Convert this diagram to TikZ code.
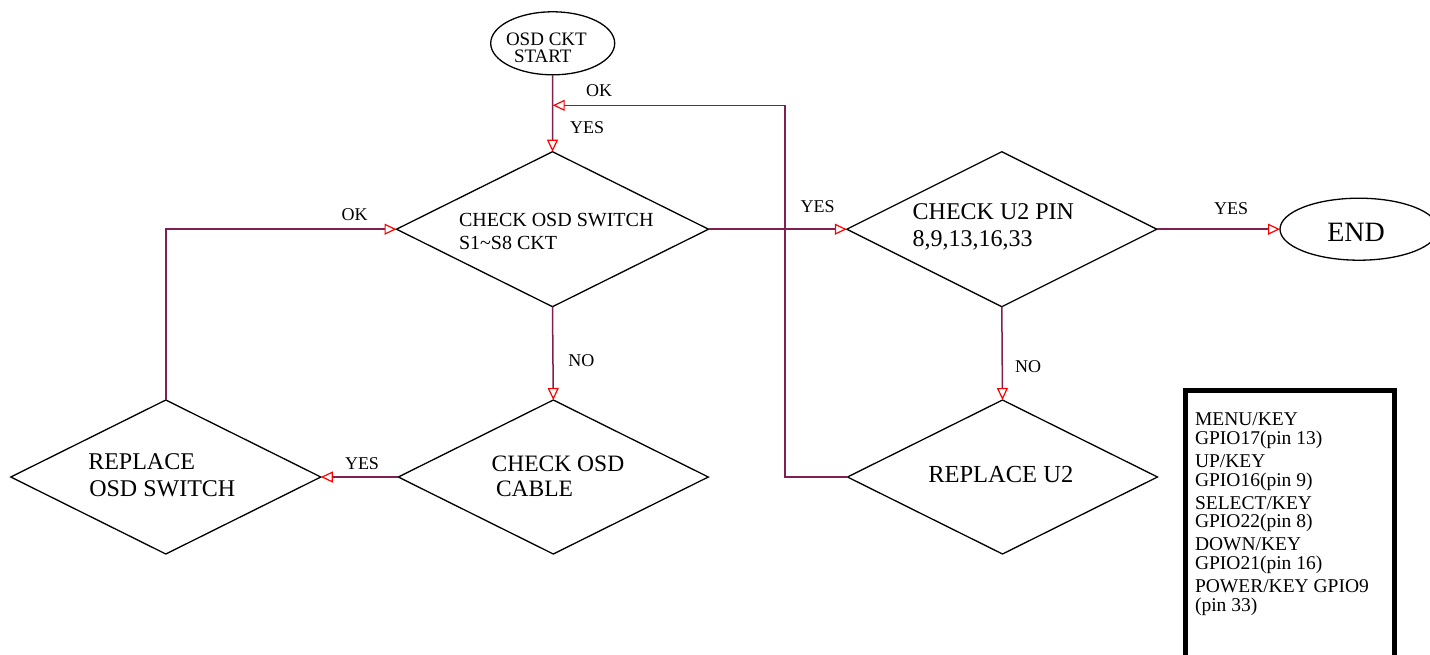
\documentclass[tikz,border=0pt]{standalone}
\usepackage{fontspec}
\setmainfont{Liberation Serif}
\usetikzlibrary{shapes.geometric,arrows.meta}
\definecolor{conncol}{RGB}{128,32,80}
\newcommand{\legfont}{\fontsize{19.5}{18.5}\selectfont\lineskiplimit=-30pt\relax\lineskip=0pt\relax}
\tikzset{
  dia/.style={draw=black, line width=1.3pt, diamond, inner sep=0pt, outer sep=0pt},
  oval/.style={draw=black, line width=1.3pt, ellipse, inner sep=0pt, outer sep=0pt},
  conn/.style={draw=conncol, line width=1.5pt, -{Triangle[open, color=red, length=12pt, width=11pt, line width=1.2pt]}},
  txt/.style={anchor=base west, inner sep=0pt, outer sep=0pt},
  lbl/.style={txt, font=\fontsize{18}{20}\selectfont},
}
\begin{document}
\begin{tikzpicture}[x=1pt,y=-1pt]
\useasboundingbox (0,0) rectangle (1430,654);
% shapes
\node[oval, minimum width=124pt, minimum height=63pt] (start) at (552.7,43.3) {};
\node[dia, minimum width=312pt, minimum height=155pt] (d1) at (552.5,229.2) {};
\node[dia, minimum width=310pt, minimum height=155pt] (d2) at (1001.8,229.2) {};
\node[oval, minimum width=158pt, minimum height=62pt] (end) at (1359,229.2) {};
\node[dia, minimum width=310pt, minimum height=154pt] (d3) at (553.3,477) {};
\node[dia, minimum width=310pt, minimum height=154pt] (d4) at (165.8,477) {};
\node[dia, minimum width=310pt, minimum height=154pt] (d5) at (1002.5,477) {};
\node[draw=black, line width=5pt, rectangle, inner sep=0pt, anchor=north west, minimum width=208.7pt, minimum height=300pt] (legend) at (1183,387.5) {};
% texts
\node[txt, font=\fontsize{19}{19}\selectfont] (ts1) at (506,45) {OSD CKT};
\node[txt, font=\fontsize{19}{19}\selectfont] (ts2) at (514,62.7) {START};
\node[txt, font=\fontsize{20}{20}\selectfont] (t1a) at (459,226.7) {CHECK OSD SWITCH};
\node[txt, font=\fontsize{20}{20}\selectfont] (t1b) at (459,249) {S1\textasciitilde S8 CKT};
\node[txt, font=\fontsize{24}{24}\selectfont] (t2a) at (912.7,219) {CHECK U2 PIN};
\node[txt, font=\fontsize{24}{24}\selectfont] (t2b) at (912.7,246.7) {8,9,13,16,33};
\node[txt, font=\fontsize{28}{28}\selectfont] (tend) at (1327.3,241.7) {END};
\node[txt, font=\fontsize{23.5}{24}\selectfont] (t3a) at (491.7,471.7) {CHECK OSD};
\node[txt, font=\fontsize{23.5}{24}\selectfont] (t3b) at (496,496.7) {CABLE};
\node[txt, font=\fontsize{24}{24}\selectfont] (t4a) at (88.3,469) {REPLACE};
\node[txt, font=\fontsize{24}{24}\selectfont] (t4b) at (89.3,496.7) {OSD SWITCH};
\node[txt, font=\fontsize{24.5}{24}\selectfont] (t5) at (928.3,482.7) {REPLACE U2};
% legend text
\node[anchor=north west, inner sep=0pt, outer sep=0pt, align=left, font=\legfont] (ltext) at (1195,413)
  {MENU/KEY\\GPIO17(pin 13)\\[4.7pt]
   UP/KEY\\GPIO16(pin 9)\\[4.7pt]
   SELECT/KEY\\GPIO22(pin 8)\\[4.7pt]
   DOWN/KEY\\GPIO21(pin 16)\\[4.7pt]
   POWER/KEY GPIO9\\(pin 33)};
% connectors
\coordinate (okturn) at (785,105.3);
\coordinate (okend) at (552.7,105.3);
\draw[conn] (start.south) -- (d1.north);
\draw[conn] (d1.east) -- (d2.west);
\draw[conn] (d2.east) -- (end.west);
\draw[conn] (d1.south) -- (d3.north);
\draw[conn] (d2.south) -- (d5.north);
\draw[conn] (d3.west) -- (d4.east);
\draw[conn] (d4.north) |- (d1.west);
\draw[conn] (d5.west) -| (okturn) -- (okend);
% labels
\node[lbl] (lyes1) at (570,133.3) {YES};
\node[lbl] (lok1) at (586,96.7) {OK};
\node[lbl] (lyes2) at (800.7,212.7) {YES};
\node[lbl] (lyes3) at (1214,214) {YES};
\node[lbl] (lok2) at (341.7,220) {OK};
\node[lbl] (lno1) at (568.3,366) {NO};
\node[lbl] (lno2) at (1015,372) {NO};
\node[lbl] (lyes4) at (345,469.3) {YES};
\end{tikzpicture}
\end{document}
